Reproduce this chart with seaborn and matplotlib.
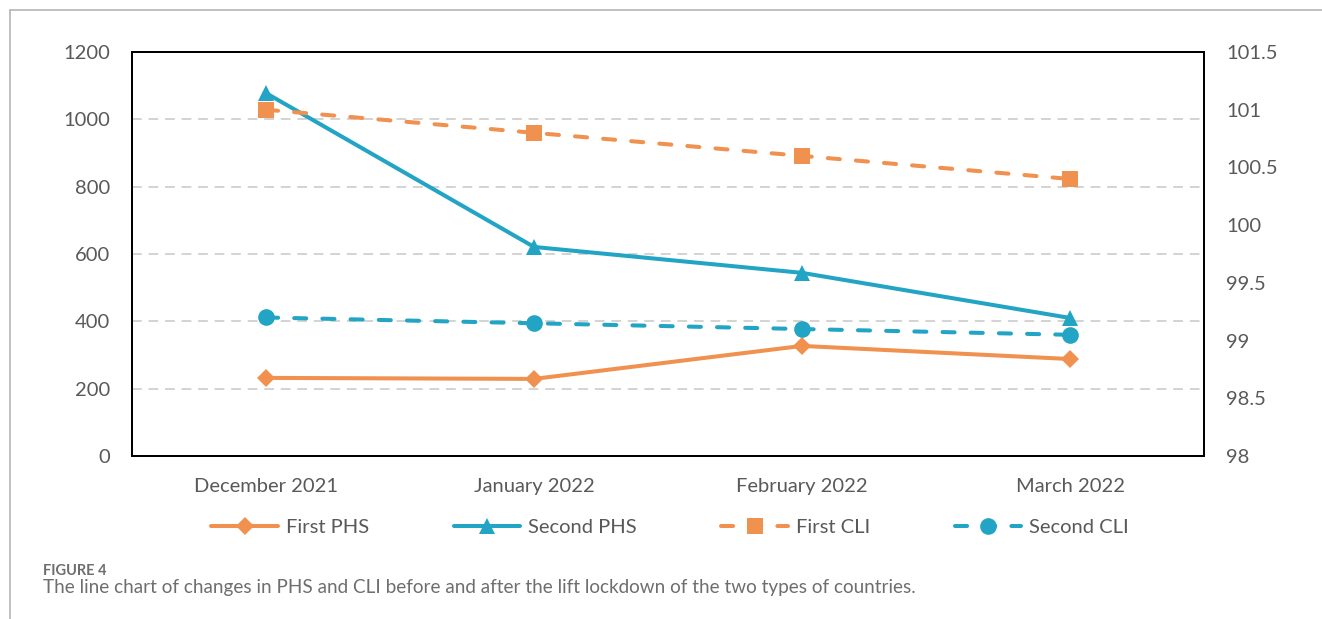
import matplotlib
matplotlib.use("Agg")
import matplotlib.pyplot as plt
from matplotlib.lines import Line2D
from matplotlib.ticker import FixedLocator, FuncFormatter
import seaborn as sns
import pandas as pd

months = ["December 2021", "January 2022", "February 2022", "March 2022"]
first_phs = [232, 229, 327, 288]
second_phs = [1078, 621, 544, 410]
first_cli = [101.0, 100.8, 100.6, 100.4]
second_cli = [99.2, 99.15, 99.1, 99.05]

left_ticks = [0, 200, 400, 600, 800, 1000, 1200]
right_ticks = [98, 98.5, 99, 99.5, 100, 100.5, 101, 101.5]

ORANGE = "#F0914F"
BLUE = "#22A4C4"
TEXT = "#595959"

sns.set_theme(style="white")
plt.rcParams["font.family"] = ["Lato", "DejaVu Sans"]

df = pd.DataFrame({
    "month": months,
    "First PHS": first_phs,
    "Second PHS": second_phs,
    "First CLI": first_cli,
    "Second CLI": second_cli,
})

fig = plt.figure(figsize=(13.22, 6.19), dpi=100)
ax = fig.add_axes([132 / 1322, 1 - 456 / 619, (1204 - 132) / 1322, (456 - 52) / 619])
ax2 = ax.twinx()

lw = 2.9
solid = dict(linewidth=lw, solid_capstyle="round", solid_joinstyle="round")
dashed = dict(linewidth=lw, linestyle=(0, (3.0, 4.0)), dash_capstyle="round")

sns.lineplot(data=df, x="month", y="First PHS", ax=ax, color=ORANGE, marker="D",
             markersize=9, markeredgewidth=0, sort=False, zorder=3, **solid)
sns.lineplot(data=df, x="month", y="Second PHS", ax=ax, color=BLUE, marker="^",
             markersize=12, markeredgewidth=0, sort=False, zorder=3, **solid)
sns.lineplot(data=df, x="month", y="First CLI", ax=ax2, color=ORANGE, marker="s",
             markersize=11, markeredgewidth=0, sort=False, zorder=3, **dashed)
sns.lineplot(data=df, x="month", y="Second CLI", ax=ax2, color=BLUE, marker="o",
             markersize=12, markeredgewidth=0, sort=False, zorder=3, **dashed)

ax.set_xlim(-0.5, len(months) - 0.5)
ax.set_ylim(0, 1200)
ax2.set_ylim(98, 101.5)

ax.yaxis.set_major_locator(FixedLocator(left_ticks))
ax2.yaxis.set_major_locator(FixedLocator(right_ticks))
ax2.yaxis.set_major_formatter(FuncFormatter(lambda v, p: f"{v:g}"))

# horizontal dashed gridlines on the left scale
for v in left_ticks[1:-1]:
    ax.axhline(v, color="#d3d3d3", linewidth=1.4, linestyle=(0, (5, 3.5)), zorder=1)

ax.set_xlabel("")
ax.set_ylabel("")
ax2.set_ylabel("")

ax.tick_params(axis="y", length=0, pad=16, labelsize=14.5, labelcolor=TEXT)
ax2.tick_params(axis="y", length=0, pad=16, labelsize=14.5, labelcolor=TEXT)
ax.tick_params(axis="x", which="major", length=0, pad=16, labelsize=14.5, labelcolor=TEXT)
ax.set_xticks([0.5, 1.5, 2.5], minor=True)
ax.tick_params(axis="x", which="minor", length=6, width=1.2, color="black", direction="out")

for a in (ax, ax2):
    for s in a.spines.values():
        s.set_color("black")
        s.set_linewidth(1.4)
        s.set_visible(True)

handles = [
    Line2D([], [], color=ORANGE, marker="D", markersize=9, markeredgewidth=0, **solid),
    Line2D([], [], color=BLUE, marker="^", markersize=12, markeredgewidth=0, **solid),
    Line2D([], [], color=ORANGE, marker="s", markersize=11, markeredgewidth=0, **dashed),
    Line2D([], [], color=BLUE, marker="o", markersize=12, markeredgewidth=0, **dashed),
]
labels = ["First PHS", "Second PHS", "First CLI", "Second CLI"]
fig.legend(handles, labels, loc="center", bbox_to_anchor=(0.507, 1 - 527 / 619),
           ncol=4, frameon=False, fontsize=14.5, labelcolor=TEXT,
           handlelength=3.3, handletextpad=0.4, columnspacing=4.2)

# page frame lines
fig.add_artist(Line2D([10 / 1322, 1], [1 - 10 / 619, 1 - 10 / 619],
                      transform=fig.transFigure, color="#b5b5b5", linewidth=1.2))
fig.add_artist(Line2D([10 / 1322, 10 / 1322], [0, 1 - 10 / 619],
                      transform=fig.transFigure, color="#b5b5b5", linewidth=1.2))

fig.text(43 / 1322, 1 - 571 / 619, "FIGURE 4", fontsize=10.5, fontweight="bold",
         color="#6e6e6e", va="center", ha="left")
fig.text(43 / 1322, 1 - 587 / 619,
         "The line chart of changes in PHS and CLI before and after the lift lockdown of the two types of countries.",
         fontsize=13.6, color="#6e6e6e", va="center", ha="left")

fig.savefig("out.png", dpi=100, facecolor="white")
